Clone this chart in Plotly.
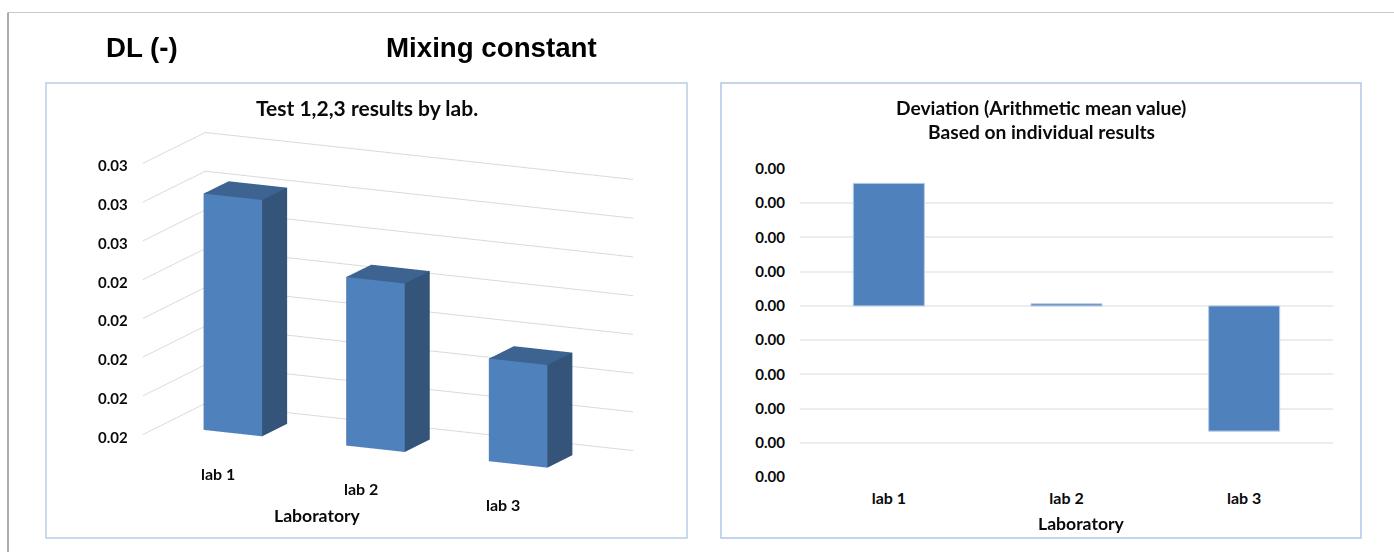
import plotly.graph_objects as go

W, H = 1394, 552

labs = ["lab 1", "lab 2", "lab 3"]
test_means = [0.0282, 0.0247, 0.0213]
deviations = [0.00179, 0.00003, -0.00183]

z_ticks = [0.016, 0.018, 0.020, 0.022, 0.024, 0.026, 0.028, 0.030]
z_tick_text = ["0.02", "0.02", "0.02", "0.02", "0.02", "0.03", "0.03", "0.03"]
y_ticks = [0.002, 0.0015, 0.001, 0.0005, 0.0, -0.0005, -0.001, -0.0015, -0.002, -0.0025]
y_tick_text = ["0.00"] * 10

BLUE = "#4F81BD"
SIDE = "#34547A"
TOP = "#3D6390"
GRID = "#EDEDED"
GRID_3D = "#DADADA"
FRAME = "#B9CDE5"
FONT = "Lato"
INK = "#0A0A0A"

BAR_HALF_W = 0.205
BAR_HALF_D = 0.20


def px(x):
    return x / W


def py(y):
    return 1 - y / H


def bar_mesh(i, value):
    x0, x1 = i - BAR_HALF_W, i + BAR_HALF_W
    y0, y1 = 0.5 - BAR_HALF_D, 0.5 + BAR_HALF_D
    z0, z1 = z_ticks[0], value
    xs = [x0, x1, x1, x0, x0, x1, x1, x0]
    ys = [y0, y0, y1, y1, y0, y0, y1, y1]
    zs = [z0, z0, z0, z0, z1, z1, z1, z1]
    faces = [
        (0, 1, 5, BLUE), (0, 5, 4, BLUE),
        (1, 2, 6, SIDE), (1, 6, 5, SIDE),
        (4, 5, 6, TOP), (4, 6, 7, TOP),
        (0, 3, 7, SIDE), (0, 7, 4, SIDE),
        (3, 2, 6, SIDE), (3, 6, 7, SIDE),
        (0, 1, 2, SIDE), (0, 2, 3, SIDE),
    ]
    return go.Mesh3d(
        x=xs, y=ys, z=zs,
        i=[f[0] for f in faces], j=[f[1] for f in faces], k=[f[2] for f in faces],
        facecolor=[f[3] for f in faces],
        flatshading=True,
        lighting=dict(ambient=1, diffuse=0, specular=0, fresnel=0, roughness=1),
        name=labs[i],
        hoverinfo="skip",
        showscale=False,
    )


fig = go.Figure()
for idx, val in enumerate(test_means):
    fig.add_trace(bar_mesh(idx, val))

fig.add_trace(go.Bar(
    x=labs, y=deviations, width=0.4,
    marker=dict(color=BLUE, line=dict(color=FRAME, width=1)),
    xaxis="x", yaxis="y", showlegend=False, hoverinfo="skip",
))

hidden = dict(
    showgrid=False, zeroline=False, showline=False, showticklabels=False,
    showbackground=False, showspikes=False, ticks="", title=dict(text=""),
)

scene_notes = []
for t, txt in zip(z_ticks, z_tick_text):
    scene_notes.append(dict(
        x=-0.5, y=0, z=t, text=txt, showarrow=False, xshift=-30, yshift=-2,
        font=dict(family=FONT, size=15, color=INK, weight="bold"),
    ))
for n, lab in enumerate(labs):
    scene_notes.append(dict(
        x=n, y=0.5 - BAR_HALF_D, z=z_ticks[0], text=lab, showarrow=False,
        xshift=-15, yshift=-40,
        font=dict(family=FONT, size=16, color=INK, weight="bold"),
    ))

# Box proportions and camera for the leaning 3D column panel.
scene = dict(
    domain=dict(x=[px(58), px(718)], y=[0, 490 / H]),
    xaxis=dict(hidden, range=[-0.5, 2.5]),
    yaxis=dict(hidden, range=[0, 1]),
    zaxis=dict(
        range=[z_ticks[0], z_ticks[-1]], tickvals=z_ticks, ticktext=z_tick_text,
        showgrid=True, gridcolor=GRID_3D, gridwidth=2,
        zeroline=False, showline=False, showticklabels=False,
        showbackground=False, showspikes=False, ticks="", title=dict(text=""),
    ),
    aspectmode="manual",
    aspectratio=dict(x=1.93, y=0.598, z=1.138),
    camera=dict(
        projection=dict(type="orthographic"),
        eye=dict(x=0.828, y=-1.760, z=0.467),
        center=dict(x=0, y=0, z=0),
        up=dict(x=0, y=0, z=1),
    ),
    annotations=scene_notes,
    bgcolor="rgba(0,0,0,0)",
    dragmode=False,
)

shapes = [
    dict(type="rect", xref="paper", yref="paper", x0=px(46), x1=px(687), y0=py(538), y1=py(83),
         line=dict(color=FRAME, width=1.5)),
    dict(type="rect", xref="paper", yref="paper", x0=px(721), x1=px(1361), y0=py(538), y1=py(83),
         line=dict(color="#AFC8E8", width=1.5)),
    dict(type="line", xref="paper", yref="paper", x0=px(8), x1=1, y0=py(12.5), y1=py(12.5),
         line=dict(color="#C8C8C8", width=1)),
    dict(type="line", xref="paper", yref="paper", x0=px(8), x1=px(8), y0=0, y1=py(12.5),
         line=dict(color="#ABABAB", width=2)),
]


def note(cx, cy, text, size, family=FONT, color=INK):
    return dict(
        xref="paper", yref="paper", x=px(cx), y=py(cy), text=text, showarrow=False,
        xanchor="center", yanchor="middle",
        font=dict(family=family, size=size, color=color, weight="bold"),
    )


annotations = [
    note(142, 48, "DL (-)", 27.7, "Liberation Sans", "#000000"),
    note(491, 48, "Mixing constant", 27.7, "Liberation Sans", "#000000"),
    note(367, 108, "Test 1,2,3 results by lab.", 21),
    note(1041, 108, "Deviation (Arithmetic mean value)", 19.2),
    note(1041, 132, "Based on individual results", 19.2),
    note(317, 515, "Laboratory", 17.6),
    note(1081, 523, "Laboratory", 17.6),
]

fig.update_layout(
    width=W, height=H,
    margin=dict(l=0, r=0, t=0, b=0),
    paper_bgcolor="white", plot_bgcolor="white",
    showlegend=False,
    scene=scene,
    xaxis=dict(
        domain=[px(800), px(1333)], anchor="y", type="category", showgrid=False,
        zeroline=False, showline=False, ticks="", ticklabelstandoff=10, automargin=False,
        side="bottom", tickfont=dict(family=FONT, size=16, color=INK, weight="bold"),
    ),
    yaxis=dict(
        domain=[py(477), py(169)], anchor="x", range=[y_ticks[-1], y_ticks[0]],
        tickvals=y_ticks, ticktext=y_tick_text, showgrid=True, gridcolor=GRID, gridwidth=1.5,
        zeroline=False, showline=False, ticks="", ticklabelstandoff=14, automargin=False,
        tickfont=dict(family=FONT, size=15, color=INK, weight="bold"),
    ),
    shapes=shapes,
    annotations=annotations,
)

fig.write_html("out.html", config=dict(displayModeBar=False))
